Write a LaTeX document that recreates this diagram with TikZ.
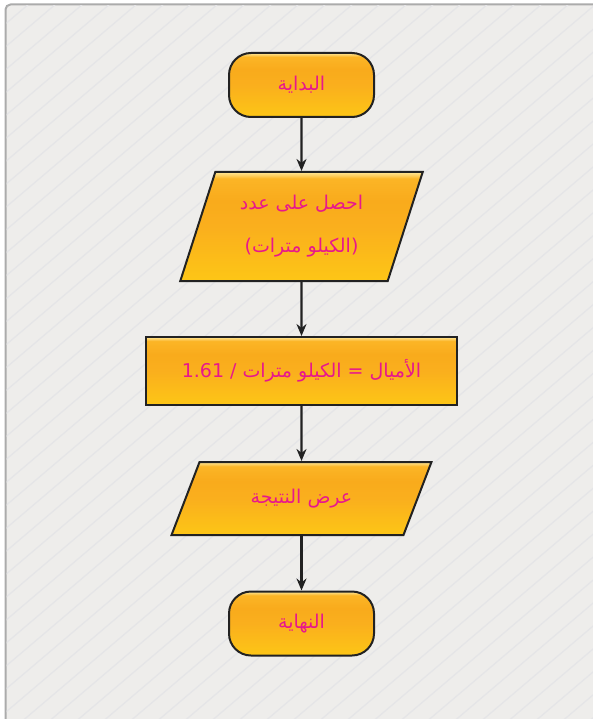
\documentclass[tikz,border=0pt]{standalone}
\usepackage{fontspec}
\newfontfamily\arabicfont[Script=Arabic]{DejaVu Sans}
\TeXXeTstate=1
\usetikzlibrary{positioning, shapes.geometric, arrows.meta}
\definecolor{panelbg}{HTML}{EEEDEB}
\definecolor{panelline}{HTML}{E5E5E7}
\definecolor{panelborder}{HTML}{ABABAB}
\definecolor{boxedge}{HTML}{222222}
\definecolor{labeltext}{HTML}{E8178C}
\definecolor{boxbot}{HTML}{FDC616}
\definecolor{boxlow}{HTML}{FAAF1D}
\definecolor{boxmid}{HTML}{F9AB1C}
\definecolor{boxup}{HTML}{FBB526}
\definecolor{boxtop}{HTML}{FFE89A}
\pgfdeclareverticalshading{boxshade}{100bp}{
  color(0bp)=(boxbot); color(25bp)=(boxbot); color(50bp)=(boxlow);
  color(62bp)=(boxmid); color(72bp)=(boxup); color(75bp)=(boxtop); color(100bp)=(boxtop)}

\begin{document}
\begin{tikzpicture}[x=1pt, y=1pt, on grid, >={Stealth[length=12pt, width=10pt]},
  every node/.style={font=\arabicfont\fontsize{19}{30}\selectfont, text=labeltext},
  box/.style={draw=boxedge, line width=2pt, shading=boxshade},
  terminal/.style={box, rectangle, rounded corners=22pt, minimum width=145pt, minimum height=64pt},
  io/.style={box, trapezium, trapezium left angle=69, trapezium right angle=111, trapezium stretches=true},
  process/.style={box, rectangle, minimum width=311pt, minimum height=68pt},
  flow/.style={->, line width=2.3pt, draw=boxedge}]
  \useasboundingbox (0,0) rectangle (593,-719);

  % panel with faint stripes
  \begin{scope}
    \clip (0,0) rectangle (593,-719);
    \path[fill=panelbg, draw=panelborder, line width=2pt, rounded corners=5pt] (5.5,-4.5) rectangle (620,-740);
    \clip (6.5,-5.5) rectangle (620,-740);
    \foreach \k in {-32,...,24}
      \draw[panelline, line width=1.3pt] (\k*27,-740) -- ++(900,765);
  \end{scope}

  \node[terminal] (start) at (301.5,-85) {\beginR البداية\endR};
  \node[io, minimum width=243pt, minimum height=109pt, below=141.5pt of start, align=center] (input)
    {\beginR احصل على عدد\endR\\[13pt])\beginR الكيلو مترات\endR(};
  \node[process, below=144.5pt of input] (calc) {1.61 / \beginR الأميال = الكيلو مترات\endR};
  \node[io, minimum width=260pt, minimum height=73pt, trapezium left angle=60, trapezium right angle=120,
    below=127.5pt of calc] (output) {\beginR عرض النتيجة\endR};
  \node[terminal, below=125pt of output] (end) {\beginR النهاية\endR};

  \draw[flow] (start) -- (input);
  \draw[flow] (input) -- (calc);
  \draw[flow] (calc) -- (output);
  \draw[flow] (output) -- (end);
\end{tikzpicture}
\end{document}
